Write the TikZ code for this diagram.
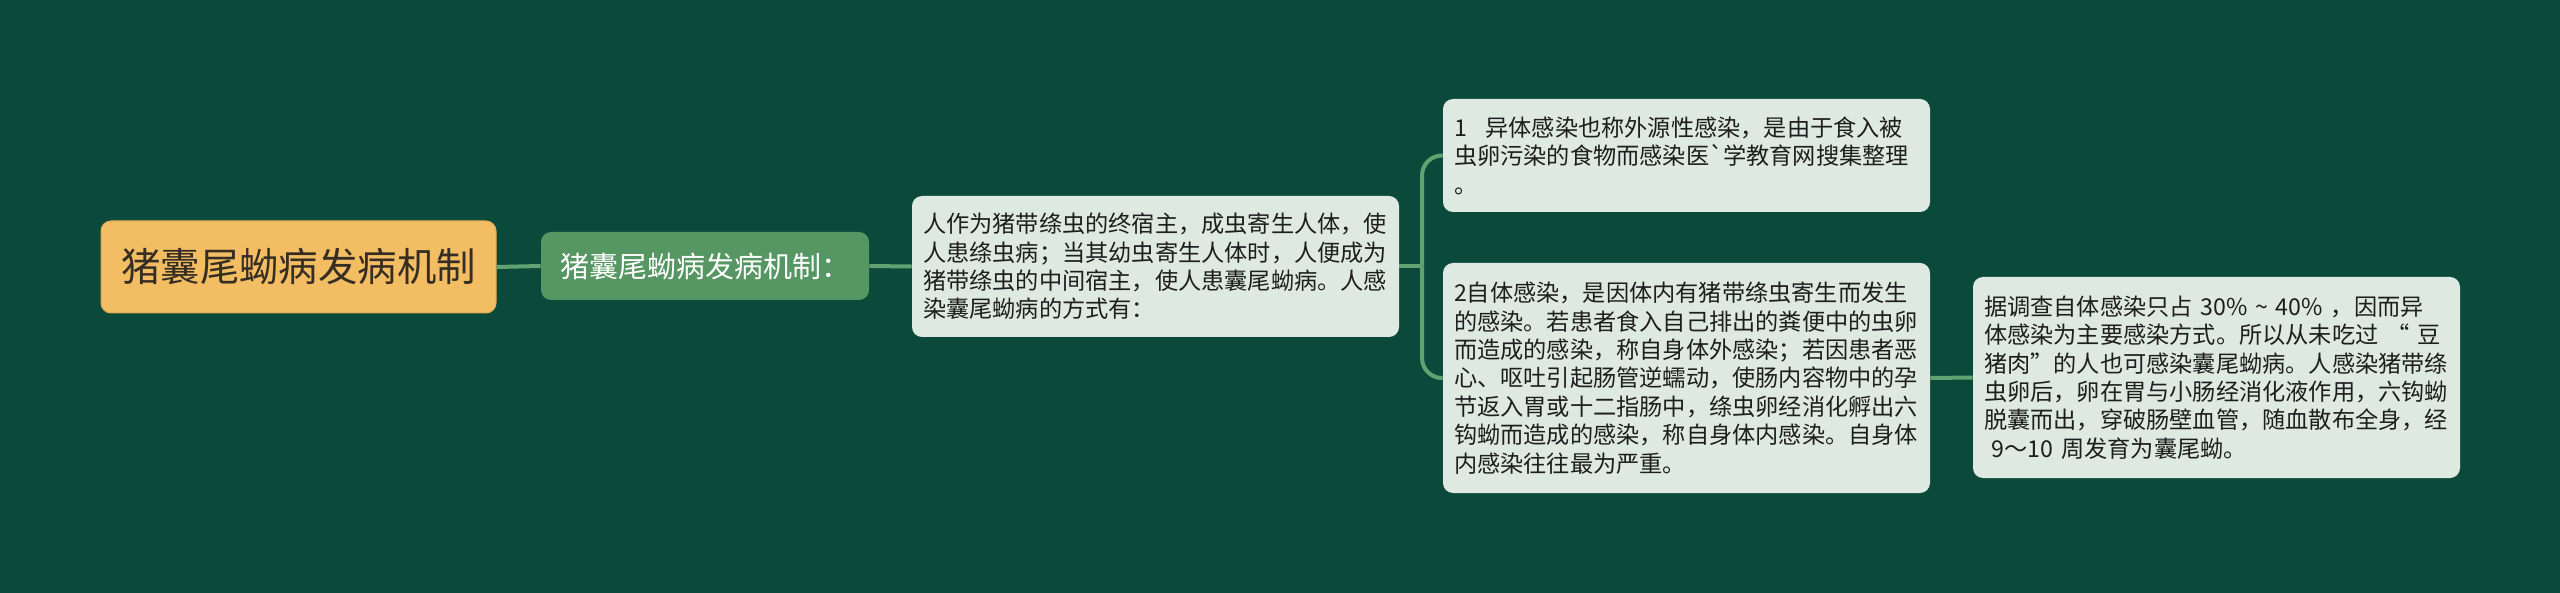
\documentclass[tikz,border=0pt]{standalone}
\usepackage{fontspec}
\setmainfont{Noto Sans CJK SC}[Ligatures=TeXOff]
\definecolor{bgc}{HTML}{0B4A3B}
\definecolor{rootc}{HTML}{F2BD63}
\definecolor{rootb}{HTML}{E3AA52}
\definecolor{midc}{HTML}{559662}
\definecolor{leafc}{HTML}{DDE9E1}
\definecolor{linec}{HTML}{62A271}
\definecolor{textc}{HTML}{1E1E1E}
\tikzset{
  conn/.style={draw=linec, line width=2pt},
  rootbox/.style={fill=rootc, draw=rootb, line width=0.5pt, rounded corners=5pt, text=textc!85!brown,
    minimum width=197.5pt, minimum height=46pt, inner sep=0pt,
    font=\fontsize{19.7pt}{23pt}\selectfont},
  midbox/.style={fill=midc, rounded corners=5pt, text=white,
    minimum width=164pt, minimum height=34pt, inner sep=0pt,
    font=\fontsize{14.5pt}{17pt}\selectfont},
  leaf/.style={fill=leafc, rounded corners=5pt, text=textc, align=left,
    text width=232.5pt, inner xsep=5.5pt, inner ysep=0pt,
    font=\fontsize{11.6pt}{14.2pt}\selectfont},
}
\begin{document}
\begin{tikzpicture}[x=0.5pt,y=-0.5pt]
\fill[bgc] (0,0) rectangle (2560,593);
\useasboundingbox (0,0) rectangle (2560,593);

\node[rootbox] (root) at (298.5,267) {猪囊尾蚴病发病机制};
\node[midbox] (mid) at (705,266) {猪囊尾蚴病发病机制：};
\node[leaf, minimum height=70.5pt] (l2) at (1155.5,266.5) {人作为猪带绦虫的终宿主，成虫寄生人体，使\\
人患绦虫病；当其幼虫寄生人体时，人便成为\\
猪带绦虫的中间宿主，使人患囊尾蚴病。人感\\
染囊尾蚴病的方式有：};
\node[leaf, minimum height=56.5pt] (a) at (1686.5,155.5) {1\hspace{0.8em}异体感染也称外源性感染，是由于食入被\\
虫卵污染的食物而感染医`学教育网搜集整理\\
。};
\node[leaf, minimum height=115pt] (b) at (1686.5,378) {2自体感染，是因体内有猪带绦虫寄生而发生\\
的感染。若患者食入自己排出的粪便中的虫卵\\
而造成的感染，称自身体外感染；若因患者恶\\
心、呕吐引起肠管逆蠕动，使肠内容物中的孕\\
节返入胃或十二指肠中，绦虫卵经消化孵出六\\
钩蚴而造成的感染，称自身体内感染。自身体\\
内感染往往最为严重。};
\node[leaf, minimum height=100.5pt] (c) at (2216.5,377.5) {据调查自体感染只占 30\% \textasciitilde{} 40\% ，因而异\\
体感染为主要感染方式。所以从未吃过 “ 豆\\
猪肉”的人也可感染囊尾蚴病。人感染猪带绦\\
虫卵后，卵在胃与小肠经消化液作用，六钩蚴\\
脱囊而出，穿破肠壁血管，随血散布全身，经\\
\ 9～10 周发育为囊尾蚴。};

\coordinate (jn) at (1422,266.5);
\draw[conn] (root.east) -- (mid.west);
\draw[conn] (mid.east) -- (l2.west);
\draw[conn] (l2.east) -- (jn);
\draw[conn, rounded corners=10pt] (jn) |- (a.west);
\draw[conn, rounded corners=10pt] (jn) |- (b.west);
\draw[conn] (b.east) -- (c.west);
\end{tikzpicture}
\end{document}
